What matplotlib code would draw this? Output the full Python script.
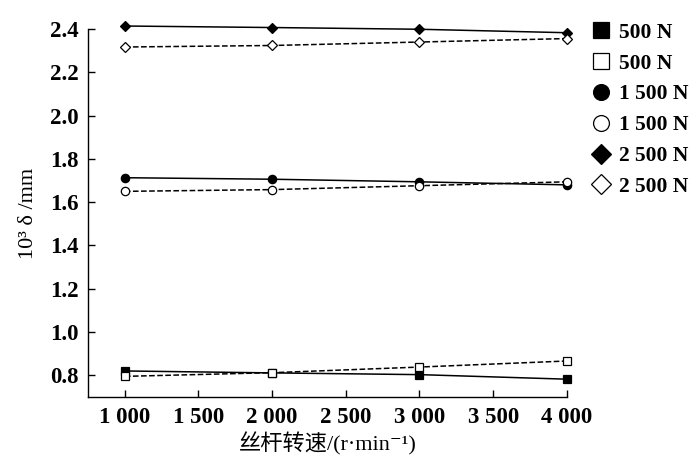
import matplotlib
matplotlib.use('Agg')
import matplotlib.pyplot as plt
from matplotlib.ticker import FuncFormatter

plt.rcParams['font.family'] = ['Liberation Serif', 'Noto Sans CJK SC', 'DejaVu Serif']

# screw speed, r/min
speed = [1000, 2000, 3000, 4000]

# 10^3 delta / mm
f500_a = [0.820, 0.811, 0.803, 0.782]
f500_b = [0.795, 0.812, 0.838, 0.866]
f1500_a = [1.713, 1.706, 1.694, 1.680]
f1500_b = [1.650, 1.658, 1.676, 1.694]
f2500_a = [2.414, 2.407, 2.399, 2.383]
f2500_b = [2.317, 2.324, 2.340, 2.356]

series = [
    (f500_a, 's', 'black', '-', '500 N'),
    (f500_b, 's', 'white', '--', '500 N'),
    (f1500_a, 'o', 'black', '-', '1 500 N'),
    (f1500_b, 'o', 'white', '--', '1 500 N'),
    (f2500_a, 'D', 'black', '-', '2 500 N'),
    (f2500_b, 'D', 'white', '--', '2 500 N'),
]

fig = plt.figure(figsize=(7, 4.61), dpi=100)
ax = fig.add_axes([0.1257, 0.139, 0.684, 0.798])

for vals, mk, fc, ls, lab in series:
    ms = 5.5 if mk == 'D' else 6
    ax.plot(speed, vals, linestyle=ls, color='black', linewidth=1.1,
            marker=mk, markersize=ms, markerfacecolor=fc,
            markeredgecolor='black', markeredgewidth=0.9,
            label=lab, clip_on=False)

ax.set_xlim(750, 4000)
ax.set_ylim(0.7, 2.4)
ax.set_xticks([1000, 1500, 2000, 2500, 3000, 3500, 4000])
ax.set_yticks([0.8, 1.0, 1.2, 1.4, 1.6, 1.8, 2.0, 2.2, 2.4])
ax.xaxis.set_major_formatter(FuncFormatter(lambda v, p: f'{int(v) // 1000} {int(v) % 1000:03d}'))
ax.yaxis.set_major_formatter(FuncFormatter(lambda v, p: f'{v:.1f}'))

for s in ['top', 'right']:
    ax.spines[s].set_visible(False)
for s in ['left', 'bottom']:
    ax.spines[s].set_linewidth(1.0)

ax.tick_params(direction='in', length=5, width=1, labelsize=16.5, pad=7)
for t in ax.get_xticklabels() + ax.get_yticklabels():
    t.set_fontweight('semibold')

ax.set_xlabel('丝杆转速/(r·min⁻¹)', fontsize=16, labelpad=3)
ax.set_ylabel('10³ δ /mm', fontsize=16, labelpad=8)

leg = ax.legend(loc='upper left', bbox_to_anchor=(1.03, 1.07), frameon=False,
                handlelength=0, handletextpad=0.85, labelspacing=0.5,
                markerscale=1.9, prop={'size': 15.5, 'weight': 'semibold'})
for h in leg.legend_handles:
    h.set_linestyle('')

fig.savefig('out.png', dpi=100)
